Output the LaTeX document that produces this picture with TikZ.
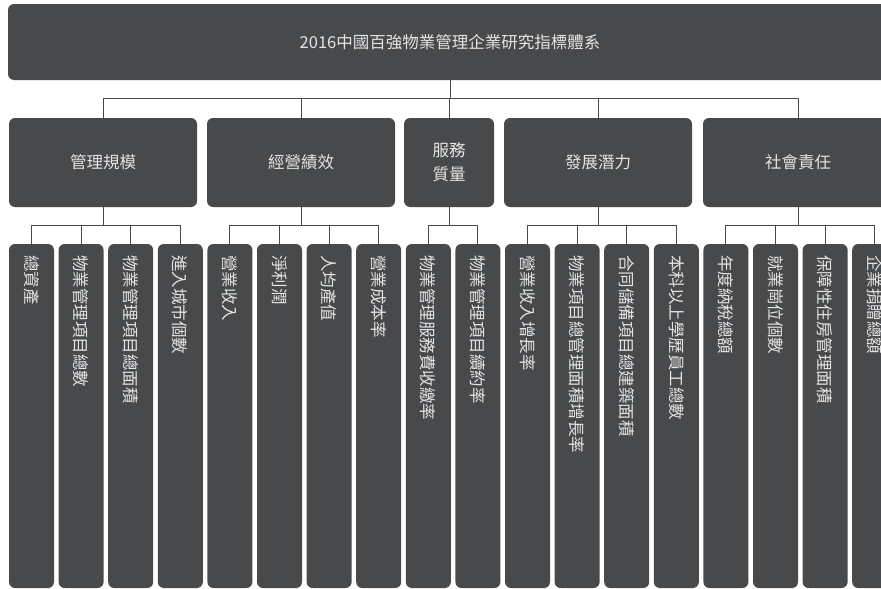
\documentclass[tikz,border=0pt]{standalone}
\usepackage{fontspec}
\setmainfont{Noto Sans CJK TC}
\definecolor{boxc}{HTML}{48494B}
\definecolor{txtc}{HTML}{E4E4E4}
\definecolor{linec}{HTML}{4A4A4A}
\begin{document}
\begin{tikzpicture}[x=1pt,y=-1pt,
  box/.style={fill=boxc, rounded corners=6pt, text=txtc, font=\fontsize{16.5}{24}\selectfont, inner sep=0pt, align=center},
  topbox/.style={box, font=\fontsize{16.5}{18}\selectfont},
  leaf/.style={fill=boxc, rounded corners=6pt, text=txtc, font=\fontsize{16.5}{17}\selectfont, rotate=-90, minimum height=45pt, text width=322pt, inner xsep=11pt, inner ysep=0pt, align=left, minimum width=344pt},
  conn/.style={draw=linec, line width=0.9pt}]
\useasboundingbox (0,0) rectangle (881,589);
\clip (0,0) rectangle (881,589);
\node[topbox, minimum width=884pt, minimum height=76pt] (top) at (450,42) {2016中國百強物業管理企業研究指標體系};
\node[box, minimum width=188pt, minimum height=89pt] (c1) at (103,162.5) {管理規模};
\node[box, minimum width=188pt, minimum height=89pt] (c2) at (301,162.5) {經營績效};
\node[box, minimum width=90pt, minimum height=89pt] (c3) at (449,162.5) {服務\\質量};
\node[box, minimum width=188pt, minimum height=89pt] (c4) at (598,162.5) {發展潛力};
\node[box, minimum width=190pt, minimum height=89pt] (c5) at (798,162.5) {社會責任};
\foreach \i/\t in {1/總資產, 2/物業管理項目總數, 3/物業管理項目總面積, 4/進入城市個數,
  5/營業收入, 6/淨利潤, 7/人均產值, 8/營業成本率,
  9/物業管理服務費收繳率, 10/物業管理項目續約率,
  11/營業收入增長率, 12/物業項目總管理面積增長率, 13/合同儲備項目總建築面積, 14/本科以上學歷員工總數,
  15/年度納稅總額, 16/就業崗位個數, 17/保障性住房管理面積, 18/企業捐贈總額}
  {\node[leaf] (l\i) at ({31.5+49.6*(\i-1)},416) {\t};}
\foreach \c in {1,...,5}
  {\draw[conn] (top.south) -- ++(0,18) -| (c\c.north);}
\foreach \l in {1,...,4}
  {\draw[conn] (c1.south) -- ++(0,18) -| (l\l.west);}
\foreach \l in {5,...,8}
  {\draw[conn] (c2.south) -- ++(0,18) -| (l\l.west);}
\foreach \l in {9,10}
  {\draw[conn] (c3.south) -- ++(0,18) -| (l\l.west);}
\foreach \l in {11,...,14}
  {\draw[conn] (c4.south) -- ++(0,18) -| (l\l.west);}
\foreach \l in {15,...,18}
  {\draw[conn] (c5.south) -- ++(0,18) -| (l\l.west);}
\end{tikzpicture}
\end{document}
